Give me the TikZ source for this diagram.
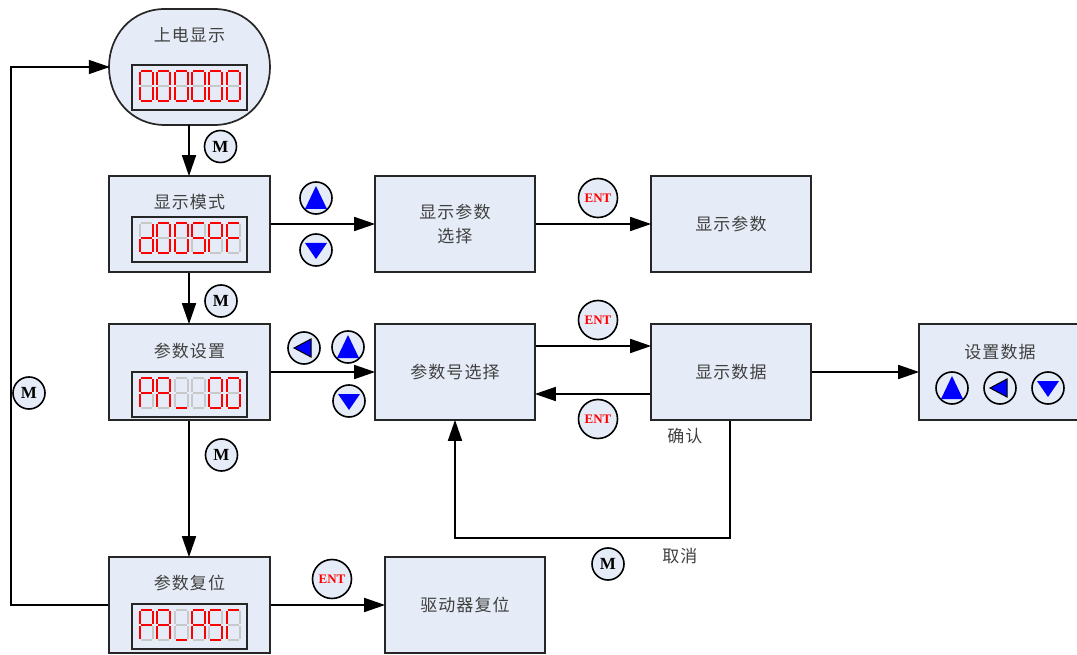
\documentclass[tikz,border=0pt]{standalone}
\usepackage{fontspec}
\setmainfont{Liberation Serif}
\newfontfamily\cjk[LetterSpace=6]{Noto Sans CJK SC}
\usetikzlibrary{arrows.meta}
\definecolor{boxfill}{HTML}{E6ECF7}
\definecolor{segoff}{HTML}{C8C8C8}
\tikzset{
 x=1pt,y=-1pt,
 panel/.style={draw=black!85,line width=1.7pt,fill=boxfill,minimum width=160pt,minimum height=96pt,inner sep=0pt,font=\cjk\fontsize{17}{24}\selectfont,text=black!75,align=center},
 title/.style={inner sep=0pt,font=\cjk\fontsize{17}{20}\selectfont,text=black!75},
 screen/.style={draw=black!85,line width=1.7pt,fill=boxfill,minimum width=115pt,minimum height=45pt,inner sep=0pt},
 btn/.style={circle,draw=black,line width=1.6pt,fill=boxfill,minimum size=32pt,inner sep=0pt,font=\bfseries\fontsize{17}{17}\selectfont},
 entbtn/.style={circle,draw=black,line width=1.6pt,fill=boxfill,minimum size=39pt,inner sep=0pt,font=\bfseries\fontsize{13}{13}\selectfont,text=red},
 link/.style={line width=1.7pt,shorten >=-1pt,-{Triangle[length=21pt,width=14pt]}},
 seg0/.style={draw=segoff},
 seg1/.style={draw=red},
}
% #1 x, #2 ytop, #3..#9 segments a b c d e f g
\newcommand{\digitseg}[9]{%
 \begin{scope}[line width=1.7pt,line cap=butt,shift={(#1,#2)}]
  \draw[seg0] (1,0) -- (12,0) (13,1) -- (13,14) (13,16) -- (13,29) (1,30) -- (12,30) (0,16) -- (0,29) (0,1) -- (0,14) (1,15) -- (12,15);
  \draw[seg#3] (1,0) -- (12,0);
  \draw[seg#4] (13,1) -- (13,14);
  \draw[seg#5] (13,16) -- (13,29);
  \draw[seg#6] (1,30) -- (12,30);
  \draw[seg#7] (0,16) -- (0,29);
  \draw[seg#8] (0,1) -- (0,14);
  \draw[seg#9] (1,15) -- (12,15);
 \end{scope}}
\newcommand{\upbtn}[2]{\node[btn] (#1) at (#2) {};\fill[blue] ([shift={(0,-12)}]#1.center) -- ([shift={(11,11)}]#1.center) -- ([shift={(-11,11)}]#1.center) -- cycle;}
\newcommand{\downbtn}[2]{\node[btn] (#1) at (#2) {};\fill[blue] ([shift={(-11,-7)}]#1.center) -- ([shift={(11,-7)}]#1.center) -- ([shift={(0,9)}]#1.center) -- cycle;}
\newcommand{\leftbtn}[2]{\node[btn] (#1) at (#2) {};\draw[black,fill=blue,line width=1pt] ([shift={(-10,0)}]#1.center) -- ([shift={(7,-9)}]#1.center) -- ([shift={(7,9)}]#1.center) -- cycle;}
\begin{document}
\begin{tikzpicture}
\useasboundingbox (0,0) rectangle (1077,655);
% power-on shape
\draw[draw=black!85,line width=1.7pt,fill=boxfill]
 (165,9) -- (214,9) .. controls (248,9) and (270,36) .. (270,67)
 .. controls (270,98) and (248,125) .. (214,125) -- (165,125)
 .. controls (131,125) and (109,98) .. (109,67)
 .. controls (109,36) and (131,9) .. (165,9) -- cycle;
\node[inner sep=0pt,minimum width=161pt,minimum height=116pt] (power) at (189.5,67) {};
\node[title] (t1) at (189.5,35) {上电显示};
\node[panel,minimum width=161pt] (mode) at (189.5,224) {};
\node[title] (t2) at (189.5,202) {显示模式};
\node[panel,minimum width=161pt] (param) at (189.5,372) {};
\node[title] (t3) at (189.5,351) {参数设置};
\node[panel,minimum width=161pt] (reset) at (189.5,605) {};
\node[title] (t4) at (189.5,583) {参数复位};
\node[panel] (dsel) at (455,224) {显示参数\\选择};
\node[panel] (dpar) at (731,224) {显示参数};
\node[panel] (psel) at (455,372) {参数号选择};
\node[panel] (ddata) at (731,372) {显示数据};
\node[panel,minimum width=159pt] (sdata) at (998.5,372) {};
\node[title] (t5) at (1000,352) {设置数据};
\node[panel] (drv) at (465,605) {驱动器复位};
\node[screen] (s1) at (189.5,87.5) {};
\node[screen] (s2) at (189.5,239.5) {};
\node[screen] (s3) at (189.5,394.5) {};
\node[screen] (s4) at (189.5,626.5) {};
% displays
\foreach \dx in {140,157,175,192,209,227}{\digitseg{\dx}{71}1111110}
\digitseg{140}{223}0111101
\digitseg{157}{223}1111110
\digitseg{175}{223}1111110
\digitseg{192}{223}1011011
\digitseg{209}{223}1100111
\digitseg{227}{223}1000111
\digitseg{140}{378}1100111
\digitseg{157}{378}1110111
\digitseg{175}{378}0001000
\digitseg{192}{378}0000000
\digitseg{209}{378}1111110
\digitseg{227}{378}1111110
\digitseg{140}{610}1100111
\digitseg{157}{610}1110111
\digitseg{175}{610}0001000
\digitseg{192}{610}1110111
\digitseg{209}{610}1011011
\digitseg{227}{610}1000110
% connectors
\coordinate (spine) at (189,0);
\coordinate (psN) at ([yshift=26pt]psel.east);
\coordinate (ddN) at (ddata.west |- psN);
\coordinate (ddS) at ([yshift=-22pt]ddata.west);
\coordinate (psS) at (psel.east |- ddS);
\coordinate (loopA) at (730,538);
\coordinate (loopB) at (455,538);
\coordinate (fbA) at (11,605);
\coordinate (fbB) at (11,67);
\draw[link] (power.south -| spine) -- (mode.north -| spine);
\draw[link] (mode.south -| spine) -- (param.north -| spine);
\draw[link] (param.south -| spine) -- (reset.north -| spine);
\draw[link] (mode) -- (dsel);
\draw[link] (dsel) -- (dpar);
\draw[link] (param) -- (psel);
\draw[link] (psN) -- (ddN);
\draw[link] (ddS) -- (psS);
\draw[link] (ddata) -- (sdata);
\draw[link] (ddata.south -| loopA) -- (loopA) -- (loopB) -- (psel.south);
\draw[link] (reset) -- (drv);
\draw[link] (reset.west) -- (fbA) -- (fbB) -- (power.west);
% buttons
\node[btn] (m1) at (220.5,146.5) {M};
\node[btn] (m2) at (221,301) {M};
\node[btn] (m3) at (221.5,455) {M};
\node[btn] (m4) at (29,393) {M};
\node[btn] (m5) at (608,564) {M};
\upbtn{u1}{316,198}
\downbtn{d1}{316,250}
\leftbtn{l1}{304,348}
\upbtn{u2}{348,347}
\downbtn{d2}{349,401}
\upbtn{u3}{952,388}
\leftbtn{l2}{1000,388}
\downbtn{d3}{1048,388}
\node[entbtn] (e1) at (598,198) {ENT};
\node[entbtn] (e2) at (598,320) {ENT};
\node[entbtn] (e3) at (598,419) {ENT};
\node[entbtn] (e4) at (332,579) {ENT};
\node[title] (ok) at (685,436) {确认};
\node[title] (no) at (680,556) {取消};
\end{tikzpicture}
\end{document}
